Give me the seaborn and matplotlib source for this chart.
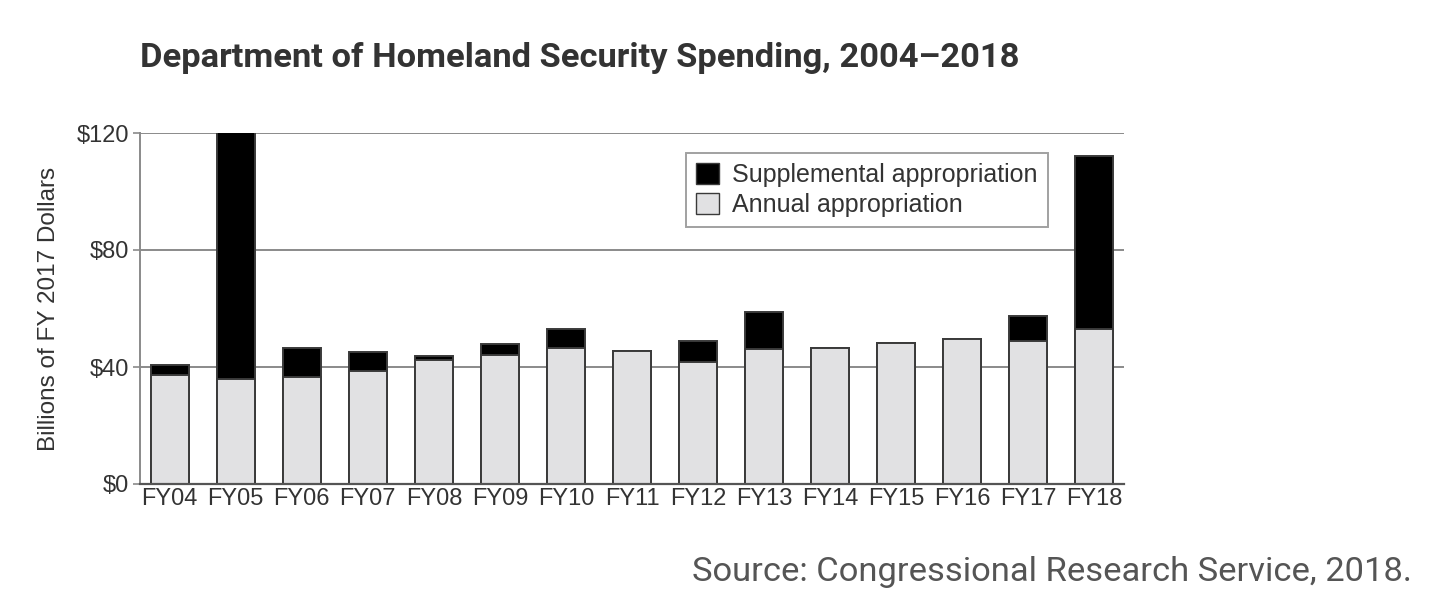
import numpy as np
import pandas as pd
import seaborn as sns
import matplotlib.pyplot as plt
from matplotlib.patches import Patch

# Data (billions of FY 2017 dollars)
years = ["FY04", "FY05", "FY06", "FY07", "FY08", "FY09", "FY10", "FY11",
         "FY12", "FY13", "FY14", "FY15", "FY16", "FY17", "FY18"]
annual = [37.1, 35.8, 36.6, 38.5, 42.3, 44.0, 46.6, 45.4,
          41.7, 46.1, 46.5, 48.2, 49.5, 48.8, 53.1]
supplemental = [3.7, 86.0, 10.0, 6.6, 1.4, 3.7, 6.3, 0.0,
                7.2, 12.8, 0.0, 0.0, 0.0, 8.7, 58.9]
y_ticks = [0, 40, 80, 120]
y_tick_labels = ["$0", "$40", "$80", "$120"]

df = pd.DataFrame({"year": years, "annual": annual, "supplemental": supplemental})
df["total"] = df["annual"] + df["supplemental"]

sns.set_theme(style="white")
plt.rcParams["font.family"] = ["Liberation Sans", "DejaVu Sans"]

fig = plt.figure(figsize=(14.4, 6.01), dpi=100)
ax = fig.add_axes([140 / 1440, 1 - 484 / 601, (1124 - 140) / 1440, (484 - 133) / 601])

edge = "#3a3a3a"
sns.barplot(data=df, x="year", y="total", color="black", saturation=1,
            width=0.58, edgecolor=edge, linewidth=1.4, ax=ax, zorder=3)
sns.barplot(data=df, x="year", y="annual", color="#e1e1e3", saturation=1,
            width=0.58, edgecolor=edge, linewidth=1.4, ax=ax, zorder=3)

ax.set_xlim(-0.45, len(years) - 0.55)
ax.set_ylim(0, 120)
ax.set_yticks(y_ticks)
ax.set_yticklabels(y_tick_labels)
ax.grid(axis="y", color="#8a8a8a", linewidth=1.4, zorder=0)
ax.set_axisbelow(True)

for s in ["top", "right"]:
    ax.spines[s].set_visible(False)
ax.spines["left"].set_color("#8a8a8a")
ax.spines["left"].set_linewidth(1.4)
ax.spines["bottom"].set_color("#555555")
ax.spines["bottom"].set_linewidth(1.6)
ax.spines["bottom"].set_zorder(4)

ax.tick_params(axis="y", length=5, width=1.2, color="#8a8a8a", labelsize=17,
               labelcolor="#333333", pad=3, left=True)
ax.tick_params(axis="x", length=0, labelsize=17, labelcolor="#333333", pad=3)
ax.set_xlabel("")
ax.set_ylabel("Billions of FY 2017 Dollars", fontsize=17.5, color="#333333", labelpad=12)

handles = [Patch(facecolor="black", edgecolor=edge, label="Supplemental appropriation"),
           Patch(facecolor="#e1e1e3", edgecolor=edge, label="Annual appropriation")]
leg = ax.legend(handles=handles, loc="upper left",
                bbox_to_anchor=((686 - 140) / 984, 1 - (153 - 133) / 351),
                fontsize=18, frameon=True, fancybox=False, edgecolor="#8a8a8a",
                handlelength=0.9, handleheight=0.9, handletextpad=0.55, labelspacing=0.25,
                borderpad=0.4, borderaxespad=0)
leg.get_frame().set_linewidth(1.4)
for t in leg.get_texts():
    t.set_color("#333333")

fig.text(140 / 1440, 1 - 58 / 601, "Department of Homeland Security Spending, 2004\u20132018",
         family="Roboto", weight="bold", fontsize=24.8, color="#333333", va="center", ha="left")
fig.text(1412 / 1440, 1 - 572 / 601, "Source: Congressional Research Service, 2018.",
         family="Roboto", fontsize=24.8, color="#555555", va="center", ha="right")

fig.savefig("out.png", dpi=100)
